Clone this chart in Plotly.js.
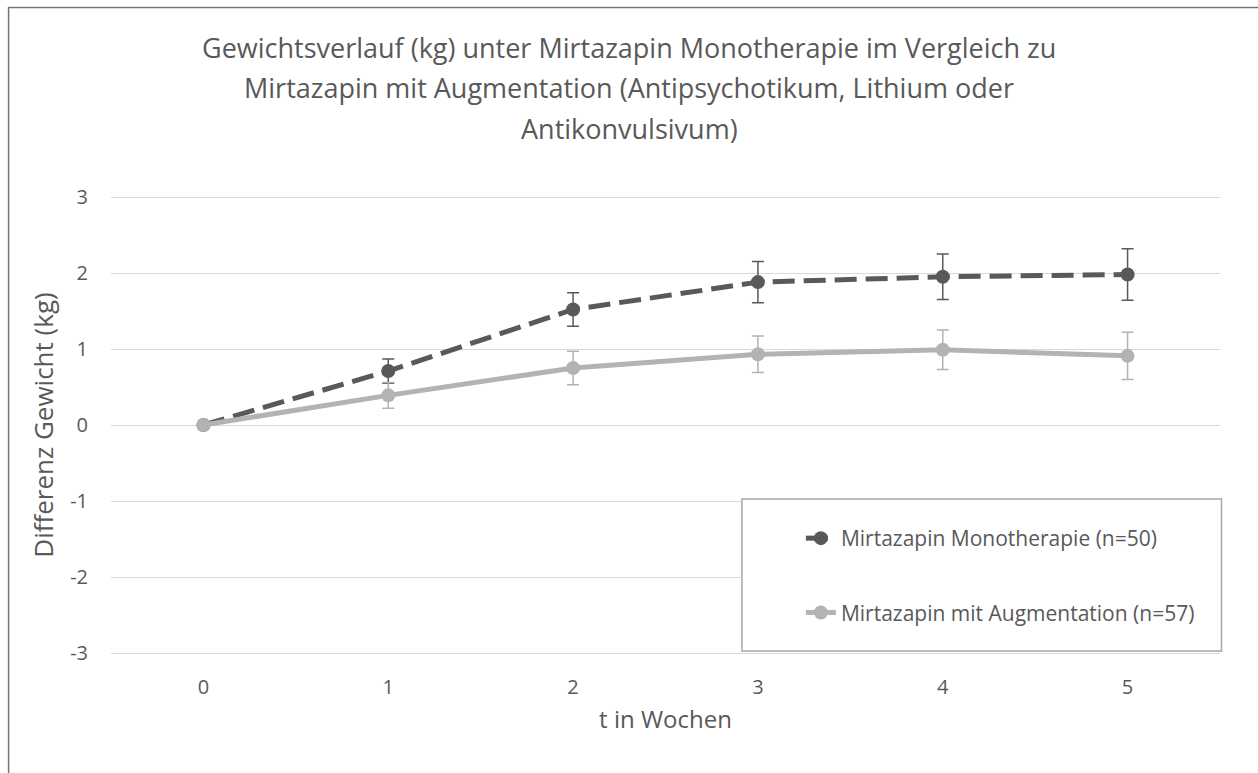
<!DOCTYPE html>
<html>
<head>
<meta charset="utf-8">
<script src="https://cdn.plot.ly/plotly-3.0.1.min.js"></script>
<style>
html,body{margin:0;padding:0;background:#fff;}
#chart{width:1258px;height:773px;}
</style>
</head>
<body>
<div id="chart"></div>
<script>
// ---- data ----
var weeks = [0, 1, 2, 3, 4, 5];
var weekLabels = ["0", "1", "2", "3", "4", "5"];
var monoName = "Mirtazapin Monotherapie (n=50)";
var monoValues = [0, 0.71, 1.52, 1.88, 1.95, 1.98];
var monoErrors = [0, 0.16, 0.22, 0.27, 0.30, 0.34];
var augName = "Mirtazapin mit Augmentation (n=57)";
var augValues = [0, 0.39, 0.75, 0.93, 0.99, 0.91];
var augErrors = [0, 0.17, 0.22, 0.24, 0.26, 0.31];
var yTickVals = [-3, -2, -1, 0, 1, 2, 3];
var yTickText = ["-3", "-2", "-1", "0", "1", "2", "3"];
var titleLines = [
  "Gewichtsverlauf (kg) unter Mirtazapin Monotherapie im Vergleich zu",
  "Mirtazapin mit Augmentation (Antipsychotikum, Lithium oder",
  "Antikonvulsivum)"
];
var xTitle = "t in Wochen";
var yTitle = "Differenz Gewicht (kg)";

// ---- styling ----
var FONT = "Open Sans, sans-serif";
var TXT = "#595959";
var DARK = "#595959";
var LIGHT = "#b3b3b3";

var traces = [
  {
    x: weeks, y: monoValues, name: monoName, type: "scatter", mode: "lines+markers",
    legendgroup: "mono",
    line: {color: DARK, width: 5, dash: "22px,9px"},
    marker: {color: DARK, size: 14},
    error_y: {type: "data", array: monoErrors, visible: true, color: DARK, thickness: 1.5, width: 6}
  },
  {
    x: weeks, y: augValues, name: augName, type: "scatter", mode: "lines+markers",
    legendgroup: "aug",
    line: {color: LIGHT, width: 5},
    marker: {color: LIGHT, size: 14},
    error_y: {type: "data", array: augErrors, visible: true, color: LIGHT, thickness: 1.5, width: 6}
  }
];

// plot area (px): -3 gridline at 653, +3 gridline at 197; 2px extra on each side
var PAD = 2;
var L = 110.5, R = 1220.5, T = 197 - PAD, B = 653 + PAD;
var W = R - L, H = B - T;
var unitPx = 76;
function px(xp){ return (xp - L) / W; }
function py(yp){ return (B - yp) / H; }

var titleY = [48, 88, 128];
var annotations = titleLines.map(function(t, i){
  return {
    text: t, xref: "paper", yref: "paper", x: px(629), y: py(titleY[i]),
    xanchor: "center", yanchor: "middle", showarrow: false,
    font: {family: FONT, size: 27, color: TXT}
  };
});

var layout = {
  width: 1258, height: 773,
  margin: {l: L, r: 1258 - R, t: T, b: 773 - B, pad: 0},
  paper_bgcolor: "#ffffff", plot_bgcolor: "#ffffff",
  font: {family: FONT, color: TXT, size: 20},
  showlegend: true,
  legend: {
    x: px(801), y: py(518), xanchor: "left", yanchor: "top",
    bgcolor: "rgba(0,0,0,0)", borderwidth: 0,
    font: {family: FONT, size: 21, color: TXT},
    tracegroupgap: 44, itemwidth: 30
  },
  xaxis: {
    range: [-0.5, 5.5], tickvals: weeks, ticktext: weekLabels,
    showgrid: false, zeroline: false, showline: false, ticks: "",
    tickfont: {family: FONT, size: 20, color: TXT},
    ticklabelstandoff: 18,
    title: {text: xTitle, font: {family: FONT, size: 24, color: TXT}, standoff: 12}
  },
  yaxis: {
    range: [-3 - PAD / unitPx, 3 + PAD / unitPx], tickvals: yTickVals, ticktext: yTickText,
    showgrid: true, gridcolor: "#d9d9d9", gridwidth: 1.3,
    zeroline: false, showline: false, ticks: "",
    tickfont: {family: FONT, size: 20, color: TXT},
    ticklabelstandoff: 22,
    title: {text: yTitle, font: {family: FONT, size: 26, color: TXT}, standoff: 9}
  },
  annotations: annotations,
  shapes: [
    {type: "rect", xref: "paper", yref: "paper",
     x0: px(8), x1: px(1270), y0: py(785), y1: py(7.5),
     line: {color: "#757575", width: 1.5}, fillcolor: "rgba(0,0,0,0)", layer: "below"},
    {type: "rect", xref: "paper", yref: "paper",
     x0: px(742), x1: px(1222), y0: py(651), y1: py(499),
     line: {color: "#a6a6a6", width: 1.5}, fillcolor: "#ffffff", layer: "above"}
  ]
};

Plotly.newPlot("chart", traces, layout, {displayModeBar: false, responsive: false});
</script>
</body>
</html>
